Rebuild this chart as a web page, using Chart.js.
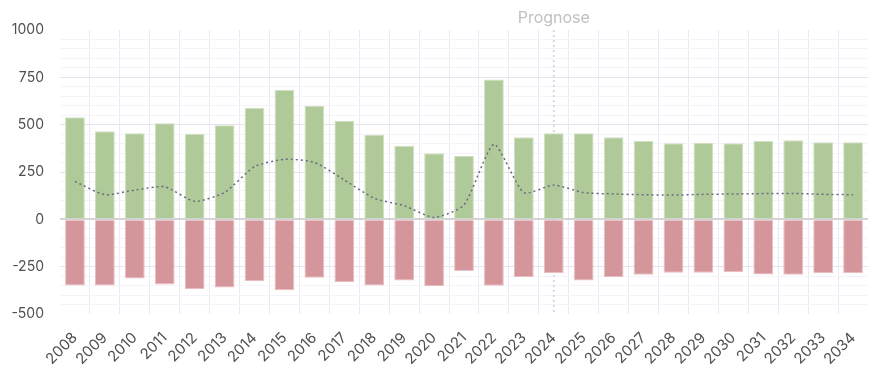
<!DOCTYPE html>
<html>
<head>
<meta charset="utf-8">
<script src="https://cdn.jsdelivr.net/npm/chart.js@4/dist/chart.umd.min.js"></script>
<style>
html,body{margin:0;padding:0;background:#fff;}
#wrap{width:876px;height:374px;}
</style>
</head>
<body>
<div id="wrap"><canvas id="c"></canvas></div>
<script>
const years = ['2008','2009','2010','2011','2012','2013','2014','2015','2016','2017','2018','2019','2020','2021','2022','2023','2024','2025','2026','2027','2028','2029','2030','2031','2032','2033','2034'];
const inflow = [539,465,455,507,452,497,590,685,600,521,447,389,349,335,738,433,455,455,433,414,402,405,402,414,418,407,407];
const outflow = [-349,-349,-312,-344,-368,-360,-326,-375,-309,-331,-349,-323,-352,-273,-351,-305,-285,-323,-305,-293,-282,-282,-279,-291,-293,-285,-285];
const netLine = [200,130,155,172,95,142,278,317,301,208,111,72,10,76,396,141,181,141,134,130,128,132,134,136,137,132,130];
const yTickLabels = [-500,-250,0,250,500,750,1000];
const forecastLabel = 'Prognose';
const forecastYear = '2024';

const FONT = 'Inter, "Noto Sans", sans-serif';

const forecastPlugin = {
  id: 'forecast',
  beforeDatasetsDraw(chart) {
    const {ctx, chartArea, scales} = chart;
    const x = scales.x.getPixelForValue(years.indexOf(forecastYear));
    ctx.save();
    ctx.strokeStyle = '#d9d5ec';
    ctx.lineWidth = 2;
    ctx.setLineDash([2,3]);
    ctx.beginPath();
    ctx.moveTo(x, chartArea.top);
    ctx.lineTo(x, chartArea.bottom);
    ctx.stroke();
    ctx.restore();
  },
  afterDraw(chart) {
    const {ctx, chartArea, scales} = chart;
    const x = scales.x.getPixelForValue(years.indexOf(forecastYear));
    ctx.save();
    ctx.fillStyle = '#c0c0c0';
    ctx.font = '16px ' + FONT;
    ctx.textAlign = 'center';
    ctx.textBaseline = 'middle';
    ctx.fillText(forecastLabel, x, chartArea.top - 12);
    ctx.restore();
  }
};

new Chart(document.getElementById('c'), {
  type: 'bar',
  data: {
    labels: years,
    datasets: [
      {
        type: 'line',
        data: netLine,
        borderColor: '#6a6a7e',
        borderWidth: 1.5,
        borderDash: [2,3],
        pointRadius: 0,
        tension: 0.2,
        fill: false,
        order: 0
      },
      {
        data: inflow,
        backgroundColor: '#b0c999',
        borderColor: '#cfe0c1',
        borderWidth: 1,
        barPercentage: 0.66,
        categoryPercentage: 1,
        order: 1
      },
      {
        data: outflow,
        backgroundColor: '#d4969b',
        borderColor: '#e9bdc0',
        borderWidth: 1,
        barPercentage: 0.66,
        categoryPercentage: 1,
        order: 1
      }
    ]
  },
  options: {
    responsive: true,
    maintainAspectRatio: false,
    animation: false,
    layout: {padding: {top: 30, right: 8, left: 10, bottom: 0}},
    plugins: {legend: {display: false}, tooltip: {enabled: false}},
    scales: {
      x: {
        stacked: true,
        afterFit(scale) {
          scale.paddingLeft = 0;
          scale.paddingRight = 0;
          scale.height = 60;
        },
        grid: {
          offset: true,
          drawTicks: false,
          color: (c) => (c.type !== 'tick' || c.index === 0) ? 'rgba(0,0,0,0)' : '#ebe9f4',
          lineWidth: 1
        },
        border: {display: false},
        ticks: {
          color: '#505050',
          font: {family: FONT, size: 15},
          minRotation: 45,
          maxRotation: 45,
          autoSkip: false,
          padding: 15
        }
      },
      y: {
        min: -500,
        max: 1000,
        border: {display: false},
        afterFit(scale) { scale.width = 50; },
        grid: {
          drawTicks: false,
          color: (c) => {
            const v = c.tick.value;
            if (v === 0) return '#d4d4d4';
            if (v === 1000 || v === -500) return 'rgba(0,0,0,0)';
            if (yTickLabels.includes(v)) return '#e6e4f0';
            return '#f4f3f9';
          },
          lineWidth: (c) => c.tick.value === 0 ? 2 : 1
        },
        ticks: {
          stepSize: 50,
          autoSkip: false,
          color: '#505050',
          font: {family: FONT, size: 14},
          padding: 16,
          callback: (v) => yTickLabels.includes(v) ? String(v) : ''
        }
      }
    }
  },
  plugins: [forecastPlugin]
});
</script>
</body>
</html>
